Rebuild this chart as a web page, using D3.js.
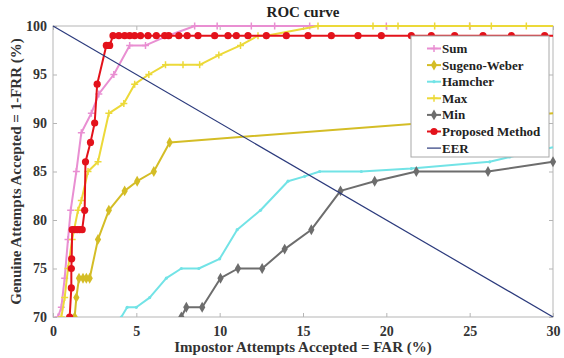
<!DOCTYPE html>
<html>
<head>
<meta charset="utf-8">
<script src="https://cdn.jsdelivr.net/npm/d3@7"></script>
<style>
  body { margin: 0; background: #fff; }
  text { font-family: "Liberation Serif", "Times New Roman", serif; font-weight: bold; fill: #222; }
</style>
</head>
<body>
<div id="chart"></div>
<script>
// series values: [FAR %, GAR %]
const sumData = [[0.3,70],[0.5,71],[0.7,74],[0.9,78],[1.06,81],[1.4,85],[1.7,89],[2.3,91],[2.75,93],[3.65,95],[4.6,98],[5.55,98],[6.9,99],[8.5,100],[9.85,100],[11.9,100],[13.3,100],[15.4,100],[20,100],[25,100],[30,100]];
const sugenoData = [[1.3,70],[1.4,72],[1.56,74],[1.8,74],[2.0,74],[2.2,74],[2.7,78],[3.35,81],[4.3,83],[5.05,84],[6.05,85],[7.0,88],[30,91]];
const hamcherData = [[4.1,70],[4.45,71],[5.0,71],[5.8,72],[6.8,74],[7.7,75],[8.75,75],[10.0,76],[11.05,79],[12.45,81],[14.1,84],[15.1,84.5],[16.0,85],[18.5,85],[21.5,85.3],[26.2,86],[27.4,86.5],[30,87.5]];
const maxData = [[0.5,70],[0.7,72],[0.9,75],[1.15,78],[1.5,81],[1.7,82],[2.1,85],[2.7,86],[3.35,91],[4.25,92],[4.9,94],[5.75,95],[6.75,96],[7.8,96],[8.8,96],[9.95,97],[11.25,98],[12.3,99],[12.8,99],[15.9,100],[19.2,100],[20.7,100],[22.9,100],[25.0,100],[26.3,100],[28.4,100],[30,100]];
const minData = [[7.7,70],[8.0,71],[8.95,71],[10.05,74],[11.1,75],[12.55,75],[13.9,77],[15.5,79],[17.25,83],[19.3,84],[21.8,85],[26.1,85],[30,86]];
const proposedData = [[1.0,70],[1.1,73],[1.1,75],[1.12,76],[1.15,79],[1.3,79],[1.45,79],[1.6,79],[1.75,79],[1.9,81],[1.95,86],[2.25,88],[2.5,90],[2.65,94],[3.2,98],[3.4,98],[3.6,99],[3.95,99],[4.3,99],[4.6,99],[4.9,99],[5.25,99],[5.7,99],[6.2,99],[6.7,99],[6.95,99],[7.55,99],[8.05,99],[8.7,99],[9.7,99],[10.5,99],[11.0,99],[11.7,99],[12.8,99],[14.0,99],[15.3,99],[16.7,99],[18.3,99],[19.7,99],[21.5,99],[22.7,99],[24.1,99],[25.8,99],[27.5,99],[29.5,99],[30,99]];
const eerData = [[0,100],[30,70]];

const xTicks = [0, 5, 10, 15, 20, 25, 30];
const yTicks = [70, 75, 80, 85, 90, 95, 100];

const series = [
  { name: "Sum", data: sumData, color: "#e98fd2", marker: "plus", width: 2 },
  { name: "Sugeno-Weber", data: sugenoData, color: "#d4bd26", marker: "diamond", width: 2 },
  { name: "Hamcher", data: hamcherData, color: "#72e3e6", marker: "dot", width: 2 },
  { name: "Max", data: maxData, color: "#ecd939", marker: "plus", width: 2 },
  { name: "Min", data: minData, color: "#6d6d6d", marker: "diamond", width: 2 },
  { name: "Proposed Method", data: proposedData, color: "#e3121b", marker: "circle", width: 2 },
  { name: "EER", data: eerData, color: "#2b3a7c", marker: null, width: 1.2 }
];

const width = 564, height = 358;
const margin = { top: 26, right: 11, bottom: 41, left: 53 };
const iw = width - margin.left - margin.right;
const ih = height - margin.top - margin.bottom;

const svg = d3.select("#chart").append("svg")
  .attr("width", width)
  .attr("height", height);

const x = d3.scaleLinear().domain([0, 30]).range([0, iw]);
const y = d3.scaleLinear().domain([70, 100]).range([ih, 0]);

const g = svg.append("g").attr("transform", `translate(${margin.left},${margin.top})`);

g.append("defs").append("clipPath").attr("id", "clip")
  .append("rect").attr("x", -4).attr("y", -4).attr("width", iw + 8).attr("height", ih + 4);

// box
g.append("rect").attr("width", iw).attr("height", ih)
  .attr("fill", "none").attr("stroke", "#b5b5b5").attr("stroke-width", 1);

// axes (ticks inward like matlab)
const xAxis = g.append("g").attr("transform", `translate(0,${ih})`)
  .call(d3.axisBottom(x).tickValues(xTicks).tickSize(-4).tickPadding(9));
const yAxis = g.append("g")
  .call(d3.axisLeft(y).tickValues(yTicks).tickSize(-4).tickPadding(6));
g.append("g").call(d3.axisTop(x).tickValues(xTicks).tickSize(-4).tickFormat(""));
g.append("g").attr("transform", `translate(${iw},0)`)
  .call(d3.axisRight(y).tickValues(yTicks).tickSize(-4).tickFormat(""));
g.selectAll(".domain").remove();
g.selectAll(".tick line").attr("stroke", "#b5b5b5");
xAxis.selectAll("text").attr("font-size", 14).style("fill", "#333");
yAxis.selectAll("text").attr("font-size", 14).style("fill", "#333");

const line = d3.line().x(d => x(d[0])).y(d => y(d[1]));

function drawMarker(sel, type, color, cx, cy) {
  if (type === "circle") {
    sel.append("circle").attr("cx", cx).attr("cy", cy).attr("r", 3.6).attr("fill", color);
  } else if (type === "diamond") {
    sel.append("path").attr("d", d3.symbol(d3.symbolDiamond, 34)()).attr("transform", `translate(${cx},${cy})`)
      .attr("fill", color);
  } else if (type === "dot") {
    sel.append("circle").attr("cx", cx).attr("cy", cy).attr("r", 1.6).attr("fill", color);
  } else if (type === "plus") {
    sel.append("path").attr("d", `M${cx - 3.5},${cy}H${cx + 3.5}M${cx},${cy - 3.5}V${cy + 3.5}`)
      .attr("stroke", color).attr("stroke-width", 1.5);
  }
}

const plot = g.append("g").attr("clip-path", "url(#clip)");
series.forEach(s => {
  const sg = plot.append("g");
  sg.append("path").datum(s.data)
    .attr("fill", "none").attr("stroke", s.color).attr("stroke-width", s.width)
    .attr("stroke-linejoin", "round").attr("d", line);
  if (s.marker) {
    s.data.forEach(d => {
      if (d[0] < 30 || s.name === "Min") drawMarker(sg, s.marker, s.color, x(d[0]), y(d[1]));
    });
  }
});

// title and labels
svg.append("text").attr("x", margin.left + iw / 2).attr("y", 17)
  .attr("text-anchor", "middle").attr("font-size", 15).text("ROC curve");
svg.append("text").attr("x", margin.left + iw / 2).attr("y", 352)
  .attr("text-anchor", "middle").attr("font-size", 15).style("fill", "#333")
  .text("Impostor Attempts Accepted = FAR (%)");
svg.append("text").attr("transform", `translate(21,${margin.top + ih / 2}) rotate(-90)`)
  .attr("text-anchor", "middle").attr("font-size", 15).style("fill", "#333")
  .text("Genuine Attempts Accepted = 1-FRR (%)");

// legend
const lg = svg.append("g").attr("transform", "translate(411,36)");
lg.append("rect").attr("width", 138).attr("height", 121)
  .attr("fill", "#fff").attr("stroke", "#a8a8a8").attr("stroke-width", 1);
series.forEach((s, i) => {
  const ly = 12.5 + i * 16.6;
  lg.append("line").attr("x1", 16).attr("x2", 30).attr("y1", ly).attr("y2", ly)
    .attr("stroke", s.color).attr("stroke-width", s.width);
  if (s.marker) drawMarker(lg, s.marker, s.color, 23, ly);
  lg.append("text").attr("x", 31).attr("y", ly + 4.5).attr("font-size", 13).text(s.name);
});
</script>
</body>
</html>
